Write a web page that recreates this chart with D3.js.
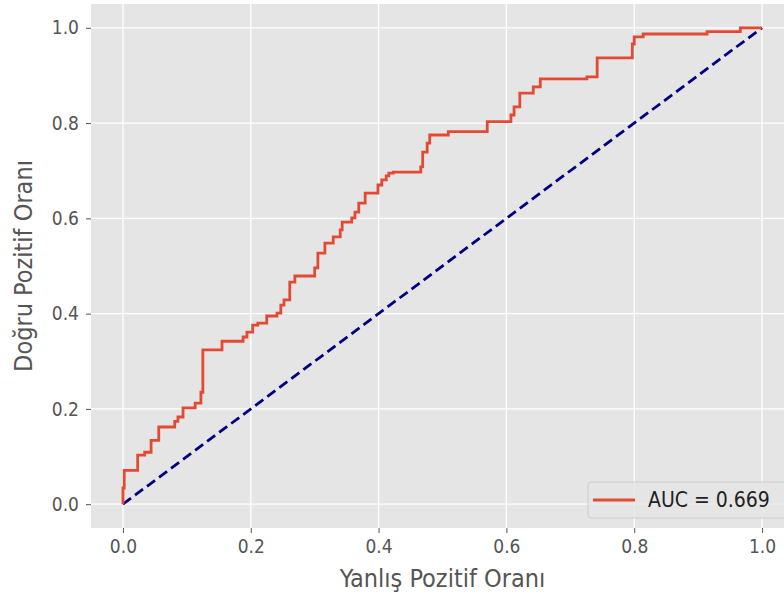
<!DOCTYPE html>
<html>
<head>
<meta charset="utf-8">
<script src="https://cdn.jsdelivr.net/npm/d3@7"></script>
<style>
  body { margin: 0; background: #fff; }
  text { font-family: "DejaVu Sans Condensed", "DejaVu Sans", sans-serif; }
</style>
</head>
<body>
<svg id="chart" width="784" height="597"></svg>
<script>
// ROC steps: at each fpr the tpr rises to the given value
let fpr = [0, 0, 0.002, 0.023, 0.034, 0.044, 0.056, 0.081, 0.086, 0.094, 0.113, 0.122, 0.125,
  0.155, 0.188, 0.194, 0.203, 0.211, 0.225, 0.241, 0.247, 0.252, 0.261, 0.269, 0.300, 0.305,
  0.316, 0.329, 0.340, 0.343, 0.358, 0.363, 0.369, 0.379, 0.399, 0.405, 0.412, 0.416, 0.423,
  0.466, 0.469, 0.476, 0.480, 0.509, 0.570, 0.607, 0.612, 0.621, 0.642, 0.653, 0.726, 0.742,
  0.797, 0.800, 0.814, 0.914, 0.966, 1.0];
let tpr = [0, 0.034, 0.071, 0.103, 0.109, 0.134, 0.162, 0.174, 0.183, 0.202, 0.212, 0.235, 0.324,
  0.342, 0.351, 0.361, 0.376, 0.380, 0.395, 0.401, 0.418, 0.429, 0.466, 0.479, 0.496, 0.527,
  0.548, 0.561, 0.576, 0.592, 0.601, 0.613, 0.632, 0.653, 0.670, 0.681, 0.689, 0.695, 0.697,
  0.708, 0.739, 0.758, 0.775, 0.782, 0.803, 0.817, 0.834, 0.863, 0.876, 0.893, 0.897, 0.937,
  0.966, 0.981, 0.987, 0.992, 1.0, 1.0];
let diagonal = [0, 1];
let tickValues = [0, 0.2, 0.4, 0.6, 0.8, 1.0];
let aucLabel = "AUC = 0.669";

let svg = d3.select("#chart");

let x = d3.scaleLinear().domain([-0.05, 1.05]).range([91, 794]);
let y = d3.scaleLinear().domain([-0.05, 1.05]).range([528, 4]);

// panel background
svg.append('rect')
    .attr('x', x(-0.05))
    .attr('y', y(1.05))
    .attr('width', x(1.05) - x(-0.05))
    .attr('height', y(-0.05) - y(1.05))
    .attr('fill', '#e5e5e5');

// grid
svg.append('g').selectAll('line')
    .data(tickValues)
    .join('line')
    .attr('x1', d => x(d)).attr('x2', d => x(d))
    .attr('y1', y(-0.05)).attr('y2', y(1.05))
    .attr('stroke', '#fff').attr('stroke-width', 1.3);

svg.append('g').selectAll('line')
    .data(tickValues)
    .join('line')
    .attr('y1', d => y(d)).attr('y2', d => y(d))
    .attr('x1', x(-0.05)).attr('x2', x(1.05))
    .attr('stroke', '#fff').attr('stroke-width', 1.3);

// axes
let xAxis = svg.append('g')
    .attr('transform', `translate(0, ${y(-0.05)})`)
    .call(d3.axisBottom(x).tickValues(tickValues).tickFormat(d3.format('.1f')).tickSize(5).tickPadding(7));
let yAxis = svg.append('g')
    .attr('transform', `translate(${x(-0.05)}, 0)`)
    .call(d3.axisLeft(y).tickValues(tickValues).tickFormat(d3.format('.1f')).tickSize(5).tickPadding(7));

[xAxis, yAxis].forEach(a => {
    a.select('.domain').remove();
    a.selectAll('.tick line').attr('stroke', '#555').attr('stroke-width', 1);
    a.selectAll('.tick text')
        .attr('fill', '#555')
        .style('font-size', '19px')
        .style('font-family', '"DejaVu Sans Condensed", "DejaVu Sans", sans-serif');
});

// diagonal
svg.append('line')
    .attr('x1', x(diagonal[0])).attr('y1', y(diagonal[0]))
    .attr('x2', x(diagonal[1])).attr('y2', y(diagonal[1]))
    .attr('stroke', '#000080')
    .attr('stroke-width', 2.8)
    .attr('stroke-dasharray', '10,5');

// ROC curve
let points = fpr.map((f, i) => [f, tpr[i]]);
svg.append('path')
    .datum(points)
    .attr('fill', 'none')
    .attr('stroke', '#e24a33')
    .attr('stroke-width', 2.8)
    .attr('d', d3.line().x(d => x(d[0])).y(d => y(d[1])).curve(d3.curveStepAfter));

// legend
let legend = svg.append('g').attr('transform', 'translate(588, 482)');
legend.append('rect')
    .attr('width', 200).attr('height', 36)
    .attr('rx', 3)
    .attr('fill', '#e5e5e5').attr('fill-opacity', 0.8)
    .attr('stroke', '#cccccc');
legend.append('line')
    .attr('x1', 5).attr('x2', 47).attr('y1', 18).attr('y2', 18)
    .attr('stroke', '#e24a33').attr('stroke-width', 2.8);
legend.append('text')
    .attr('x', 60).attr('y', 25)
    .attr('fill', '#222')
    .style('font-size', '21px')
    .text(aucLabel);

// axis labels
svg.append('text')
    .attr('x', x(0.5)).attr('y', 587)
    .attr('text-anchor', 'middle')
    .attr('fill', '#555')
    .style('font-size', '25px')
    .text('Yanlış Pozitif Oranı');

svg.append('text')
    .attr('transform', `translate(32, ${y(0.5)}) rotate(-90)`)
    .attr('text-anchor', 'middle')
    .attr('fill', '#555')
    .style('font-size', '25px')
    .text('Doğru Pozitif Oranı');
</script>
</body>
</html>
